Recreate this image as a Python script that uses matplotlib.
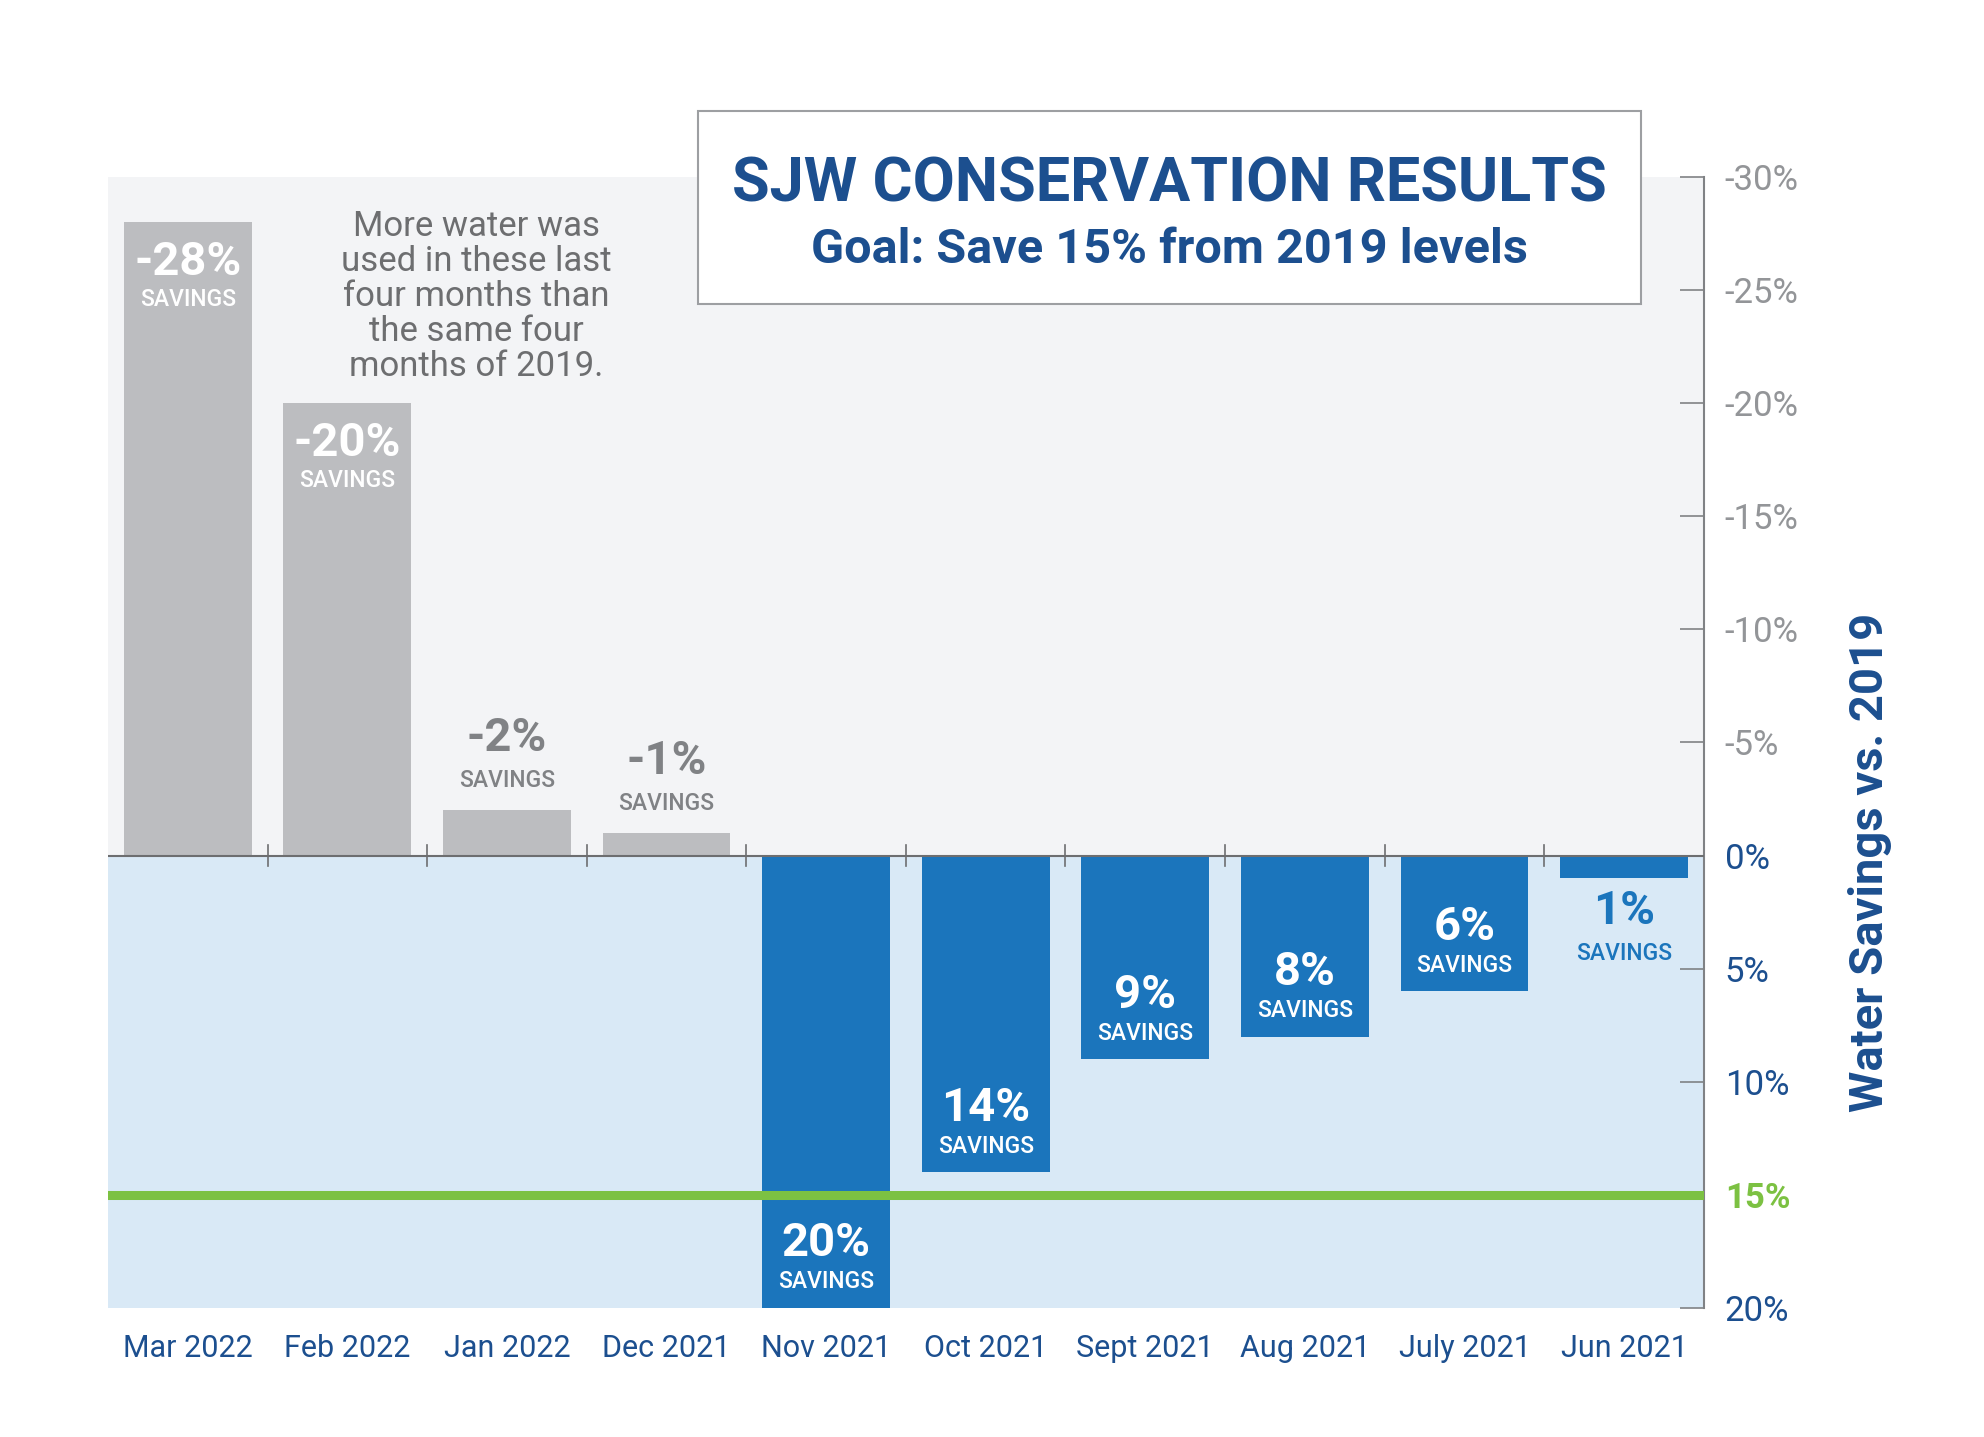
import matplotlib
matplotlib.use("Agg")
import matplotlib.pyplot as plt
from matplotlib.patches import Rectangle

plt.rcParams['font.family'] = ['Roboto', 'DejaVu Sans']

# data, left to right as in the reference
months = ['Mar 2022', 'Feb 2022', 'Jan 2022', 'Dec 2021', 'Nov 2021',
          'Oct 2021', 'Sept 2021', 'Aug 2021', 'July 2021', 'Jun 2021']
savings = [-28, -20, -2, -1, 20, 14, 9, 8, 6, 1]
goal = 15
y_ticks = [-30, -25, -20, -15, -10, -5, 0, 5, 10, 15, 20]

gray_bar = '#bcbdc0'
blue_bar = '#1b75bc'
dark_blue = '#1c4f8f'
gray_text = '#808285'
green = '#7cc142'

fig = plt.figure(figsize=(19.84, 14.37), dpi=100)
ax = fig.add_axes([0.0544, 0.0898, 0.8044, 0.787])

ax.set_xlim(-0.5, len(months) - 0.5)
ax.set_ylim(20, -30)

# backgrounds: above / below zero
ax.axhspan(-30, 0, color='#f3f4f6', zorder=0)
ax.axhspan(0, 20, color='#d9e9f6', zorder=0)

x = list(range(len(months)))
colors = [gray_bar if v < 0 else blue_bar for v in savings]
ax.bar(x, savings, width=0.8, color=colors, zorder=2)

ax.axhline(0, color='#6d6e70', lw=1.5, zorder=3)
ax.axhline(goal, color=green, lw=6.5, zorder=4)

# small ticks between months on the zero line
for k in range(1, len(months)):
    ax.plot([k - 0.5, k - 0.5], [-0.45, 0.45], color='#6d6e70', lw=1.2, zorder=3)

NUM = 34
SAV = 16.5


def label(xi, y_num, y_sav, txt, col):
    ax.text(xi, y_num, txt, ha='center', va='center', color=col,
            fontsize=NUM, fontweight='bold', zorder=5)
    ax.text(xi, y_sav, 'SAVINGS', ha='center', va='center', color=col,
            fontsize=SAV, fontweight='medium', zorder=5)


# value labels
for xi, v in zip(x, savings):
    txt = f'{v}%'
    if v <= -10:
        label(xi, v + 1.75, v + 3.4, txt, 'white')
    elif v < 0:
        label(xi, v - 3.2, v - 1.3, txt, gray_text)
    elif v >= 5:
        label(xi, v - 2.85, v - 1.15, txt, 'white')
    else:
        label(xi, v + 1.45, v + 3.35, txt, blue_bar)

ax.text(1.81, -28.55, 'More water was\nused in these last\nfour months than\nthe same four\nmonths of 2019.',
        ha='center', va='top', color='#6d6e70', fontsize=25, linespacing=1.08, zorder=5)

# axes styling
for s in ['left', 'top', 'bottom']:
    ax.spines[s].set_visible(False)
ax.spines['right'].set_color('#808285')
ax.spines['right'].set_linewidth(1.5)

ax.set_xticks(x)
ax.set_xticklabels(months, fontsize=22, color=dark_blue)
ax.tick_params(axis='x', length=0, pad=19)

ax.yaxis.tick_right()
ax.set_yticks(y_ticks)
ax.set_yticklabels([f'{t}%' for t in y_ticks], fontsize=25)
ax.tick_params(axis='y', direction='in', length=17, width=1.2, color='#808285', pad=15)
for t, lab in zip(y_ticks, ax.get_yticklabels()):
    if t < 0:
        lab.set_color('#939598')
    elif t == goal:
        lab.set_color(green)
        lab.set_fontweight('bold')
    else:
        lab.set_color(dark_blue)

fig.text(0.9425, 0.4, 'Water Savings vs. 2019', rotation=90, ha='center', va='center',
         color=dark_blue, fontsize=34, fontweight='bold')

# title box
fig.patches.append(Rectangle((0.3518, 0.7884), 0.4753, 0.1343, transform=fig.transFigure,
                             facecolor='white', edgecolor='#9d9fa2', lw=1.5, zorder=10))
fig.text(0.5895, 0.8713, 'SJW CONSERVATION RESULTS', ha='center', va='center',
         color=dark_blue, fontsize=44, fontweight='bold', zorder=11)
fig.text(0.5895, 0.8262, 'Goal: Save 15% from 2019 levels', ha='center', va='center',
         color=dark_blue, fontsize=35, fontweight='bold', zorder=11)

fig.savefig('out.png', dpi=100, facecolor='white')
